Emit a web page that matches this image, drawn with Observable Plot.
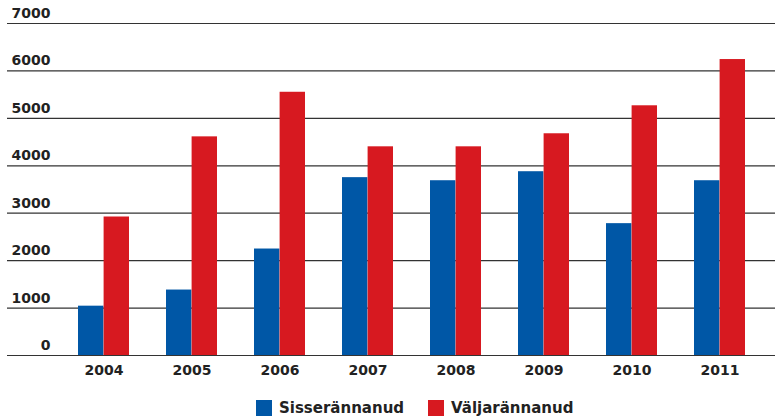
<!DOCTYPE html>
<html><head><meta charset="utf-8">
<script src="https://cdn.jsdelivr.net/npm/d3@7"></script>
<script src="https://cdn.jsdelivr.net/npm/@observablehq/plot@0.6"></script>
<style>
body{margin:0;background:#fff;font-family:"DejaVu Sans",sans-serif;}
#legend{position:relative;height:28px;width:775px;}
.item{position:absolute;top:7px;display:flex;align-items:center;font-weight:bold;font-size:15px;color:#222;}
.sw{width:16px;height:16px;margin-right:7px;}
</style></head><body><div id="chart"></div><div id="legend"></div>
<script>
const years = ["2004","2005","2006","2007","2008","2009","2010","2011"];
const seriesNames = ["Sisserännanud","Väljarännanud"];
const sisserannanud = [1040,1380,2245,3750,3685,3875,2780,3685];
const valjarannanud = [2920,4610,5550,4400,4400,4675,5265,6240];
const yTicks = [0,1000,2000,3000,4000,5000,6000,7000];
const colors = ["#0057a6","#d71920"];

const data = years.flatMap((yr,i)=>[
  {year:yr, series:seriesNames[0], value:sisserannanud[i]},
  {year:yr, series:seriesNames[1], value:valjarannanud[i]}
]);

const W = 775, H = 392;
const chart = Plot.plot({
  width: W, height: H,
  marginLeft: 7, marginRight: 0, marginTop: 23, marginBottom: 37,
  style: {fontFamily: "DejaVu Sans, sans-serif", fontSize: "14px", fontWeight: "bold", color: "#222", background: "#fff"},
  x: {domain: years, range: [57.7, 766], paddingInner: 0.42, paddingOuter: 0.21, label: null},
  y: {domain: [0,7000], ticks: yTicks, label: null},
  color: {domain: seriesNames, range: colors},
  marks: [
    Plot.ruleY(yTicks, {stroke: "#333", strokeWidth: 1.2}),
    Plot.barY(data.filter(d=>d.series===seriesNames[0]), {x:"year", y:"value", fill:"series", insetRight: 25.6}),
    Plot.barY(data.filter(d=>d.series===seriesNames[1]), {x:"year", y:"value", fill:"series", insetLeft: 25.6}),
    Plot.axisY(yTicks, {tickSize: 0, tickPadding: 0, dx: 43, dy: -10, textAnchor: "end", fill: "#222", label: null, tickFormat: d => String(d)}),
    Plot.axisX({tickSize: 0, tickPadding: 10, fill: "#222", label: null})
  ]
});
document.getElementById("chart").appendChild(chart);

const legend = document.getElementById("legend");
const lefts = [256, 428];
seriesNames.forEach((name,i)=>{
  const it = document.createElement("div");
  it.className = "item";
  it.style.left = lefts[i] + "px";
  it.innerHTML = `<span class="sw" style="background:${colors[i]}"></span><span>${name}</span>`;
  legend.appendChild(it);
});
</script></body></html>
